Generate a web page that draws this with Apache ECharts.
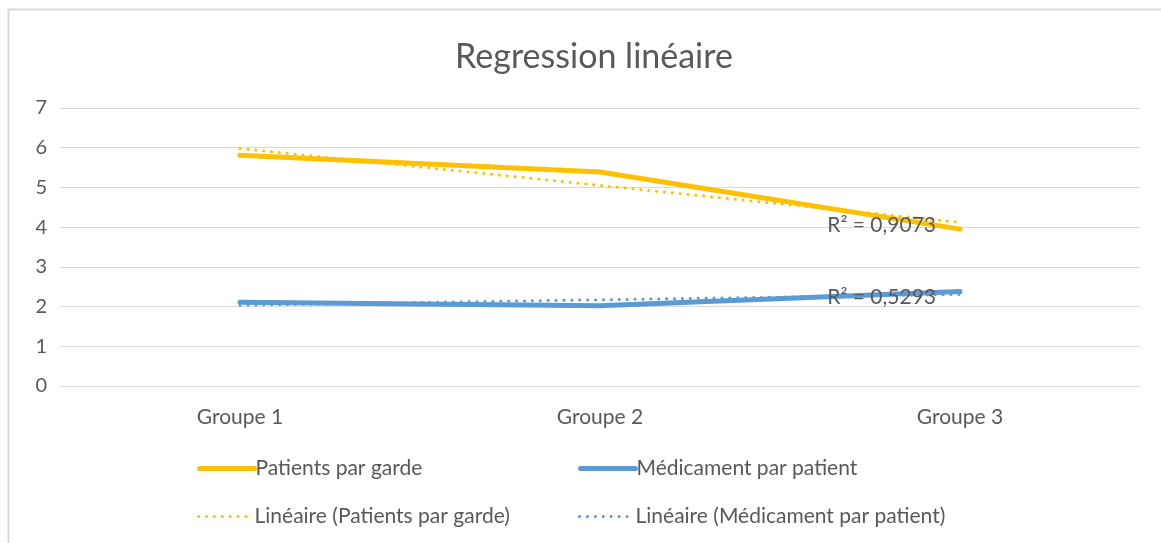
<!DOCTYPE html>
<html>
<head>
<meta charset="utf-8">
<script src="https://cdn.jsdelivr.net/npm/echarts@6/dist/echarts.min.js"></script>
<style>html,body{margin:0;padding:0;background:#fff}#c{width:1161px;height:543px}</style>
</head>
<body>
<div id="c"></div>
<script>
const categories = ['Groupe 1', 'Groupe 2', 'Groupe 3'];
const patientsParGarde = [5.81, 5.39, 3.95];
const medicamentParPatient = [2.11, 2.02, 2.38];
const seriesNames = ['Patients par garde', 'Médicament par patient', 'Linéaire (Patients par garde)', 'Linéaire (Médicament par patient)'];
const r2Labels = ['R² = 0,9073', 'R² = 0,5293'];
const yTicks = [0, 1, 2, 3, 4, 5, 6, 7];

function linearFit(vals) {
  const n = vals.length;
  const xs = vals.map((_, i) => i + 1);
  const mx = xs.reduce((a, b) => a + b, 0) / n;
  const my = vals.reduce((a, b) => a + b, 0) / n;
  let sxy = 0, sxx = 0;
  for (let i = 0; i < n; i++) { sxy += (xs[i] - mx) * (vals[i] - my); sxx += (xs[i] - mx) ** 2; }
  const b = sxy / sxx, a = my - b * mx;
  return xs.map(x => a + b * x);
}

const FONT = 'Lato';
const TXT = '#595959';
const YELLOW = '#FFC000';
const BLUE = '#5B9BD5';
const DOT = [0.1, 7.8];

function trendData(vals, label) {
  const fit = linearFit(vals);
  return fit.map((v, i) => i === fit.length - 1 ? {
    value: v,
    label: { show: true, formatter: label, position: 'left', distance: 24, offset: [0, 3],
      color: TXT, fontFamily: FONT, fontSize: 21 }
  } : v);
}

const chart = echarts.init(document.getElementById('c'), null, { renderer: 'canvas' });

function legendAt(name, left, top, lineStyle) {
  return {
    data: [name], left: left, top: top, padding: 0, itemWidth: 55, itemHeight: 14, itemGap: 0,
    itemStyle: { opacity: 0 },
    lineStyle: lineStyle,
    textStyle: { color: TXT, fontFamily: FONT, fontSize: 21, padding: [0, 0, 0, -4] },
    selectedMode: false
  };
}

chart.setOption({
  animation: false,
  backgroundColor: '#fff',
  title: {
    text: 'Regression linéaire', left: 589, top: 35, textAlign: 'center',
    textStyle: { color: TXT, fontFamily: FONT, fontSize: 34, fontWeight: 'normal' }
  },
  graphic: [{
    type: 'polyline',
    shape: { points: [[8.5, 543], [8.5, 9.5], [1161, 9.5]] },
    style: { stroke: '#d9d9d9', lineWidth: 2, fill: null },
    silent: true
  }],
  legend: [
    legendAt(seriesNames[0], 197, 458, { width: 5, cap: 'round' }),
    legendAt(seriesNames[1], 578, 458, { width: 5, cap: 'round' }),
    legendAt(seriesNames[2], 197, 506, { width: 3, type: DOT, cap: 'round' }),
    legendAt(seriesNames[3], 578, 506, { width: 3, type: DOT, cap: 'round' })
  ],
  grid: { left: 60, right: 21, top: 108, bottom: 157 },
  xAxis: {
    type: 'category', data: categories, boundaryGap: true,
    axisLine: { lineStyle: { color: '#d9d9d9', width: 1 } },
    axisTick: { show: false },
    axisLabel: { color: TXT, fontFamily: FONT, fontSize: 21, margin: 21 }
  },
  yAxis: {
    type: 'value', min: 0, max: 7, interval: 1,
    axisLine: { show: false }, axisTick: { show: false },
    splitLine: { lineStyle: { color: '#d9d9d9', width: 1 } },
    axisLabel: { color: TXT, fontFamily: FONT, fontSize: 20, margin: 13,
      formatter: v => yTicks.includes(v) ? String(v) : '' }
  },
  series: [
    { name: seriesNames[0], type: 'line', data: patientsParGarde, symbol: 'none', color: YELLOW,
      lineStyle: { color: YELLOW, width: 5, cap: 'round' }, z: 3 },
    { name: seriesNames[1], type: 'line', data: medicamentParPatient, symbol: 'none', color: BLUE,
      lineStyle: { color: BLUE, width: 5, cap: 'round' }, z: 3 },
    { name: seriesNames[2], type: 'line', data: trendData(patientsParGarde, r2Labels[0]),
      symbol: 'circle', symbolSize: 0, showSymbol: true, color: YELLOW,
      lineStyle: { color: YELLOW, width: 3, type: DOT, cap: 'round' }, z: 4 },
    { name: seriesNames[3], type: 'line', data: trendData(medicamentParPatient, r2Labels[1]),
      symbol: 'circle', symbolSize: 0, showSymbol: true, color: BLUE,
      lineStyle: { color: BLUE, width: 3, type: DOT, cap: 'round' }, z: 4 }
  ]
});
</script>
</body>
</html>
